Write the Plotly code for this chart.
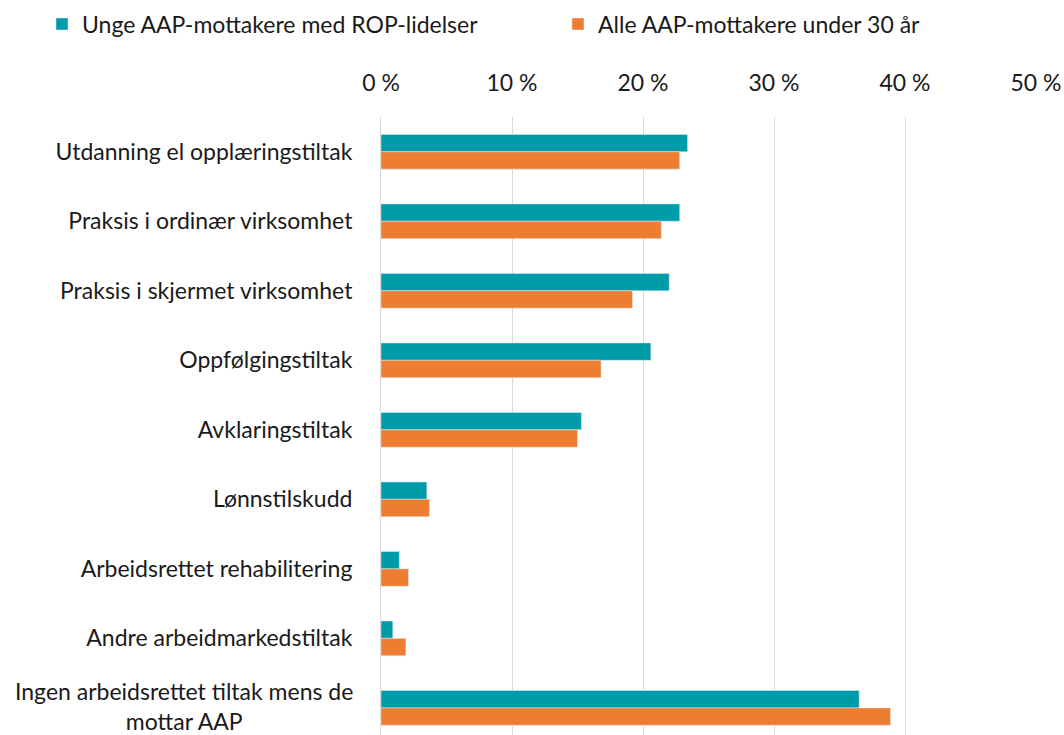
import plotly.graph_objects as go

categories = [
    "Utdanning el opplæringstiltak",
    "Praksis i ordinær virksomhet",
    "Praksis i skjermet virksomhet",
    "Oppfølgingstiltak",
    "Avklaringstiltak",
    "Lønnstilskudd",
    "Arbeidsrettet rehabilitering",
    "Andre arbeidmarkedstiltak",
    "Ingen arbeidsrettet tiltak mens de mottar AAP",
]
rop_values = [23.4, 22.8, 22.0, 20.6, 15.3, 3.5, 1.4, 0.9, 36.5]
all_values = [22.8, 21.4, 19.2, 16.8, 15.0, 3.7, 2.1, 1.9, 38.9]
series_names = ["Unge AAP-mottakere med ROP-lidelser", "Alle AAP-mottakere under 30 år"]
tick_vals = [0, 10, 20, 30, 40, 50]
tick_text = ["0 %", "10 %", "20 %", "30 %", "40 %", "50 %"]

teal = "#009BA8"
orange = "#ED7D31"
font_family = "Lato, 'Open Sans', sans-serif"
fsize = 23

y_labels = categories[:-1] + [""]

fig = go.Figure()
fig.add_trace(go.Bar(y=categories, x=rop_values, orientation="h", name=series_names[0],
                     marker=dict(color=teal), legend="legend"))
fig.add_trace(go.Bar(y=categories, x=all_values, orientation="h", name=series_names[1],
                     marker=dict(color=orange), legend="legend2"))

fig.add_annotation(x=-0.040, y=categories[-1], xref="paper", yref="y",
                   text="Ingen arbeidsrettet tiltak mens de<br>mottar AAP",
                   showarrow=False, xanchor="right", align="center", yshift=2,
                   font=dict(family=font_family, size=fsize, color="#1a1a1a"))

legend_common = dict(orientation="h", xref="container", yref="container",
                     xanchor="left", yanchor="middle",
                     font=dict(size=fsize), itemwidth=30, bgcolor="rgba(0,0,0,0)")

W, H = 1064, 735
fig.update_layout(
    width=W, height=H,
    margin=dict(l=381, r=28, t=117, b=0, autoexpand=False),
    paper_bgcolor="white", plot_bgcolor="white",
    barmode="group", bargap=0.5, bargroupgap=0,
    font=dict(family=font_family, size=fsize, color="#1a1a1a"),
    legend=dict(x=42 / W, y=1 - 24 / H, **legend_common),
    legend2=dict(x=558 / W, y=1 - 24 / H, **legend_common),
    showlegend=True,
)
fig.update_xaxes(range=[0, 50], side="top", tickvals=tick_vals, ticktext=tick_text,
                 showgrid=True, gridcolor="#D9D9D9", gridwidth=1, zeroline=False,
                 showline=False, ticks="", ticklabelstandoff=20, automargin=False)
fig.update_yaxes(categoryorder="array", categoryarray=categories,
                 tickvals=categories, ticktext=y_labels,
                 range=[8.39, -0.5], showgrid=False, showline=True,
                 linecolor="#D9D9D9", linewidth=1, ticks="", ticklabelstandoff=23,
                 automargin=False)

fig.write_html("out.html",
               config={"displayModeBar": False},
               post_script="document.body.style.margin='0';document.body.style.overflow='hidden';")
